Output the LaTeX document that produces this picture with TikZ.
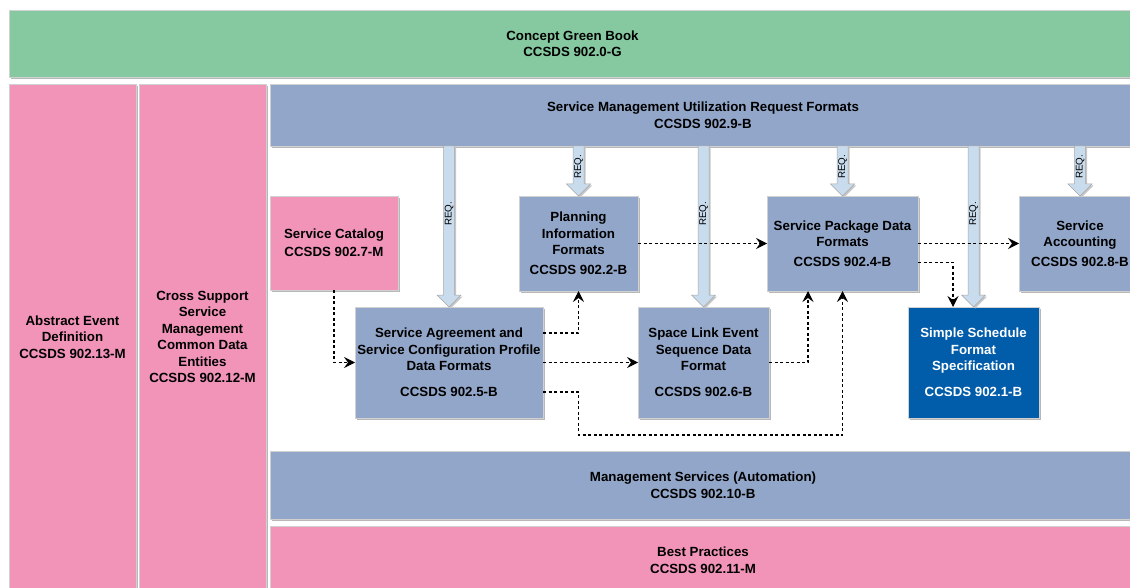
\documentclass[tikz,border=0pt]{standalone}
\usepackage{fontspec}
\setmainfont{Liberation Sans}
\usetikzlibrary{shadows,arrows.meta,calc}
\definecolor{cgreen}{HTML}{86C9A0}
\definecolor{cpink}{HTML}{F194B8}
\definecolor{cblue}{HTML}{91A6C8}
\definecolor{cdark}{HTML}{015CAA}
\definecolor{creq}{HTML}{C9DCEE}
\tikzset{
  shad/.style={drop shadow={shadow xshift=2pt,shadow yshift=-2pt,fill=black!28,opacity=1}},
  blk/.style={shad, draw=black!18, line width=0.5pt, inner sep=0pt, outer sep=0pt, align=center,
    font=\bfseries\fontsize{13.3}{16.5}\selectfont, text=black},
  gbox/.style={blk, fill=cgreen},
  pbox/.style={blk, fill=cpink},
  bbox/.style={blk, fill=cblue},
  dbox/.style={blk, fill=cdark, text=white},
  reqarrow/.style={draw=black!35, fill=creq, line width=0.5pt,
    drop shadow={shadow xshift=1.5pt,shadow yshift=-1.5pt,fill=black!22,opacity=1}},
  reqlabel/.style={rotate=90, font=\fontsize{9.8}{10}\selectfont, inner sep=0pt},
  dep/.style={draw=black, line width=1.1pt, dash pattern=on 3pt off 2.5pt,
    -{Stealth[length=11pt,width=11pt,inset=4pt]}},
}
\newcommand{\reqto}[2]{%
  \draw[reqarrow] let \p1=(topbar.south -| #1.north), \p2=(#1.north) in
    (\x1-5.5pt,\y1) -- (\x1+5.5pt,\y1) -- (\x1+5.5pt,\y2+12pt) -- (\x1+12pt,\y2+12pt)
    -- (\x1,\y2) -- (\x1-12pt,\y2+12pt) -- (\x1-5.5pt,\y2+12pt) -- cycle;
  \path let \p1=(topbar.south -| #1.north) in
    node[reqlabel] at (\x1,\y1-#2) {REQ.};}
\begin{document}
\begin{tikzpicture}[x=1pt,y=-1pt]
\useasboundingbox (0,0) rectangle (1130,588);
\clip (0,0) rectangle (1130,588);

\node[gbox, minimum width=1127pt, minimum height=67pt] (green) at (572.5,43.5)
  {Concept Green Book\\CCSDS 902.0-G};
\node[pbox, minimum width=127pt, minimum height=506pt] (abs) at (72.5,337)
  {Abstract Event\\Definition\\CCSDS 902.13-M};
\node[pbox, minimum width=127pt, minimum height=506pt] (cross) at (202.5,337)
  {Cross Support\\Service\\Management\\Common Data\\Entities\\CCSDS 902.12-M};
\node[bbox, minimum width=866pt, minimum height=62pt] (topbar) at (703,115)
  {Service Management Utilization Request Formats\\CCSDS 902.9-B};
\node[bbox, minimum width=866pt, minimum height=68pt] (mgmt) at (703,485)
  {Management Services (Automation)\\CCSDS 902.10-B};
\node[pbox, minimum width=866pt, minimum height=68pt] (best) at (703,560)
  {Best Practices\\CCSDS 902.11-M};

\node[pbox, minimum width=128pt, minimum height=94pt] (cat) at (334,243)
  {Service Catalog\\[1.5pt]CCSDS 902.7-M};
\node[bbox, minimum width=119pt, minimum height=95pt] (plan) at (578.5,243.5)
  {Planning\\Information\\Formats\\[3.5pt]CCSDS 902.2-B};
\node[bbox, minimum width=151pt, minimum height=95pt] (pkg) at (842.5,243.5)
  {Service Package Data\\Formats\\[3.5pt]CCSDS 902.4-B};
\node[bbox, minimum width=122pt, minimum height=95pt] (acct) at (1080,243.5)
  {Service\\Accounting\\[3.5pt]CCSDS 902.8-B};
\node[bbox, minimum width=188pt, minimum height=111pt] (agree) at (449,362.5)
  {Service Agreement and\\Service Configuration Profile\\Data Formats\\[9.5pt]CCSDS 902.5-B};
\node[bbox, minimum width=131pt, minimum height=111pt] (slink) at (703.5,362.5)
  {Space Link Event\\Sequence Data\\Format\\[9.5pt]CCSDS 902.6-B};
\node[dbox, minimum width=131pt, minimum height=111pt] (sched) at (973.5,362.5)
  {Simple Schedule\\Format\\Specification\\[9.5pt]CCSDS 902.1-B};

\reqto{agree}{68pt}
\reqto{plan}{21pt}
\reqto{slink}{68pt}
\reqto{pkg}{21pt}
\reqto{sched}{68pt}
\reqto{acct}{21pt}

\coordinate (c1) at (578.5,435);
\draw[dep] (cat.south) |- (agree.west);
\draw[dep] (plan.east) -- (pkg.west);
\draw[dep] (pkg.east) -- (acct.west);
\draw[dep] ([yshift=-19pt]pkg.east) -| ([xshift=-20.5pt]sched.north);
\draw[dep] ([yshift=29.5pt]agree.east) -| (plan.south);
\draw[dep] (agree.east) -- (slink.west);
\draw[dep] (slink.east) -| ([xshift=-34.5pt]pkg.south);
\draw[dep] ([yshift=-29.5pt]agree.east) -| (c1) -| (pkg.south);
\end{tikzpicture}
\end{document}
